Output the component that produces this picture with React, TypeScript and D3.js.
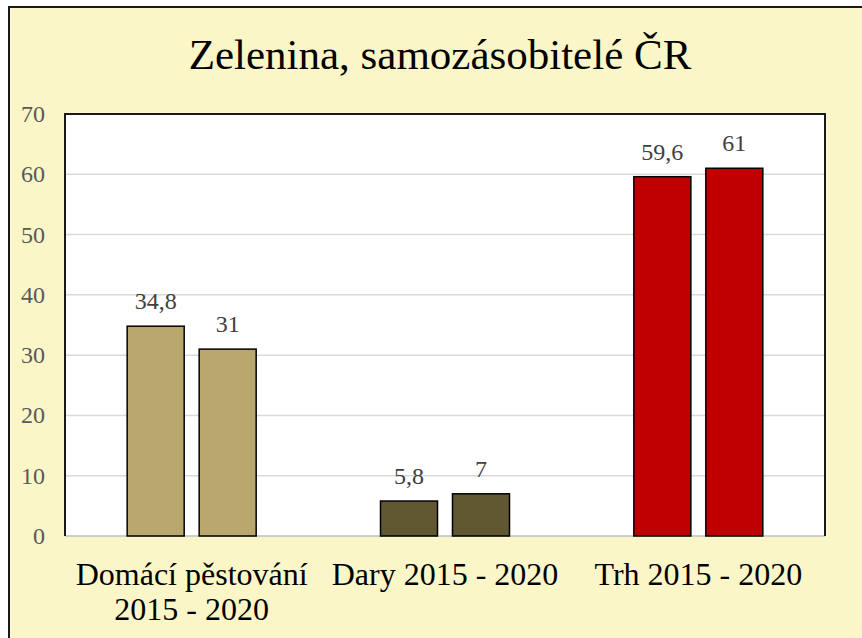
import React from "react";
import * as d3 from "d3";

// chart data
const categories = ["Domácí pěstování 2015 - 2020", "Dary 2015 - 2020", "Trh 2015 - 2020"];
const categoryLines = [["Domácí pěstování", "2015 - 2020"], ["Dary 2015 - 2020"], ["Trh 2015 - 2020"]];
const values2015 = [34.8, 5.8, 59.6];
const values2020 = [31, 7, 61];
const barColors = ["#B9A76E", "#615731", "#C00000"];
const yTicks = [0, 10, 20, 30, 40, 50, 60, 70];
const title = "Zelenina, samozásobitelé ČR";

const W = 862, H = 638;
const plot = { left: 65, top: 114, right: 825, bottom: 536 };
const serif = { fontFamily: '"Liberation Serif"' };

const App = () => {
  const x = d3.scaleBand().domain(categories).range([plot.left, plot.right]);
  const inner = d3.scaleBand().domain(["a", "b"]).range([-64.5, 64.5]).paddingInner(0.208);
  const y = d3.scaleLinear().domain([0, 70]).range([plot.bottom, plot.top]);
  const fmt = (v) => String(v).replace(".", ",");

  const series = [values2015, values2020];

  return (
    <svg width={W} height={H} style={{ position: "absolute", left: 0, top: 0 }}>
      <rect x={0} y={0} width={W} height={H} fill="#ffffff" />
      <rect x={9} y={7} width={W + 10} height={H + 10} fill="#FAF6C8" stroke="#1a1a1a" strokeWidth={2} />
      <text x={440} y={69} textAnchor="middle" style={serif} fontSize={43} fill="#000">
        {title}
      </text>
      <rect x={plot.left} y={plot.top} width={plot.right - plot.left} height={plot.bottom - plot.top} fill="#fff" />
      {yTicks.map((t) => (
        <g key={t}>
          {t > 0 && t < 70 && (
            <line x1={plot.left} x2={plot.right} y1={y(t)} y2={y(t)} stroke="#d9d9d9" strokeWidth={1.5} />
          )}
          <text x={45} y={y(t) + 8} textAnchor="end" style={serif} fontSize={24} fill="#595959">
            {t}
          </text>
        </g>
      ))}
      <line x1={plot.left} x2={plot.right} y1={plot.bottom} y2={plot.bottom} stroke="#bfbfbf" strokeWidth={1.5} />
      <path
        d={`M${plot.left},${plot.bottom}V${plot.top}H${plot.right}V${plot.bottom}`}
        fill="none"
        stroke="#1a1a1a"
        strokeWidth={2}
      />
      {categories.map((c, i) => {
        const cx = x(c) + x.bandwidth() / 2;
        return (
          <g key={c}>
            {series.map((s, j) => {
              const bx = cx + inner(j === 0 ? "a" : "b");
              const v = s[i];
              return (
                <g key={j}>
                  <rect
                    x={bx}
                    y={y(v)}
                    width={inner.bandwidth()}
                    height={y(0) - y(v)}
                    fill={barColors[i]}
                    stroke="#000"
                    strokeWidth={1.5}
                  />
                  <text
                    x={bx + inner.bandwidth() / 2}
                    y={y(v) - 17}
                    textAnchor="middle"
                    style={serif}
                    fontSize={24}
                    fill="#404040"
                  >
                    {fmt(v)}
                  </text>
                </g>
              );
            })}
            {categoryLines[i].map((line, k) => (
              <text
                key={k}
                x={cx}
                y={585 + k * 35}
                textAnchor="middle"
                style={serif}
                fontSize={32}
                fill="#000"
              >
                {line}
              </text>
            ))}
          </g>
        );
      })}
    </svg>
  );
};

export default App;
